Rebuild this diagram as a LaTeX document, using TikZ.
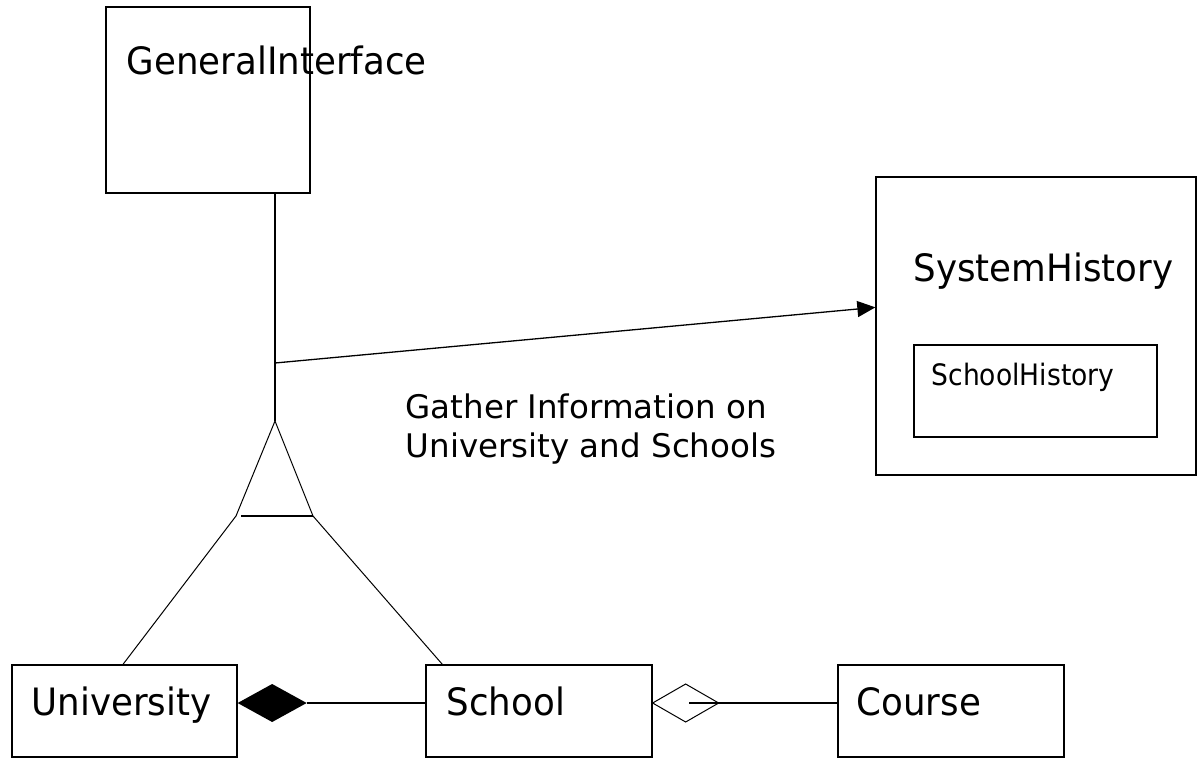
\documentclass[tikz,border=0pt]{standalone}
\usepackage{fontspec}
\setmainfont{DejaVu Sans}[FakeStretch=0.945]
\newfontfamily\notefont{DejaVu Sans}
\newfontfamily\innerfont{DejaVu Sans}[FakeStretch=0.9]
\usetikzlibrary{arrows.meta,calc}

\begin{document}
\begin{tikzpicture}[x=1pt, y=-1pt, line width=1.3pt,
  classbox/.style={draw, rectangle, inner sep=0pt},
  classname/.style={anchor=base west, inner sep=0pt,
    font=\fontsize{37.7}{40}\selectfont},
  innername/.style={anchor=base west, inner sep=0pt,
    font=\innerfont\fontsize{29.5}{32}\selectfont},
  notetext/.style={anchor=base west, inner sep=0pt, align=left,
    font=\notefont\fontsize{32.5}{39}\selectfont},
  thinline/.style={line width=1pt}]

\useasboundingbox (0,0) rectangle (1200,758);

% class boxes
\node[classbox, minimum width=204pt, minimum height=186pt] (gi)  at (208,100) {};
\node[classbox, minimum width=320pt, minimum height=298pt] (sys) at (1036,326) {};
\node[classbox, minimum width=243pt, minimum height=92pt]  (sh)  at (1035.5,391) {};
\node[classbox, minimum width=225pt, minimum height=92pt]  (uni) at (124.5,711) {};
\node[classbox, minimum width=226pt, minimum height=92pt]  (sch) at (539,711) {};
\node[classbox, minimum width=226pt, minimum height=92pt]  (crs) at (951,711) {};

% class names
\node[classname] (gi-name)  at (126,74)  {GeneralInterface};
\node[classname] (sys-name) at (913,281) {SystemHistory};
\node[innername] (sh-name)  at (931,385) {SchoolHistory};
\node[classname] (uni-name) at (31,715)  {University};
\node[classname] (sch-name) at (446,715) {School};
\node[classname] (crs-name) at (856,715) {Course};

% note on the association (anchored on the baseline of its last line)
\node[notetext] (note) at (405,457) {Gather Information on\\University and Schools};

% generalisation triangle
\coordinate (apex)  at (275,421);
\coordinate (baseL) at (236,516);
\coordinate (baseR) at (313,516);
\draw (apex |- gi.south) -- (apex);
\draw[thinline] (apex) -- (baseL);
\draw[thinline] (apex) -- (baseR);
\draw (baseL) ++(5,0) -- (baseR);
\draw[thinline] (baseL) -- (uni.north -| 123,0);
\draw[thinline] (baseR) -- ($(sch.north west)+(17,0)$);

% association to the history
\coordinate (tap) at (275,363);
\coordinate (tip) at ($(sys.north west)+(0,131)$);
\draw[-{Triangle[length=18pt,width=16pt]}] (tap) -- (tip);

% composition: University <>-- School
\coordinate (compA) at ($(uni.east)+(0,-8)$);
\coordinate (compB) at ($(compA)+(69,0)$);
\fill (compA) -- ++(34.5,-19) -- (compB) -- ++(-34.5,19) -- cycle;
\draw (compB) -- (sch.west |- compB);

% aggregation: School <>-- Course
\coordinate (aggA) at ($(sch.east)+(0,-8)$);
\coordinate (aggB) at ($(aggA)+(66,0)$);
\draw[thinline] (aggA) -- ++(33,-19) -- (aggB) -- ++(-33,19) -- cycle;
\coordinate (aggIn) at ($(aggA)+(36,0)$);
\draw (crs.west |- aggA) -- (aggIn);

\end{tikzpicture}
\end{document}
